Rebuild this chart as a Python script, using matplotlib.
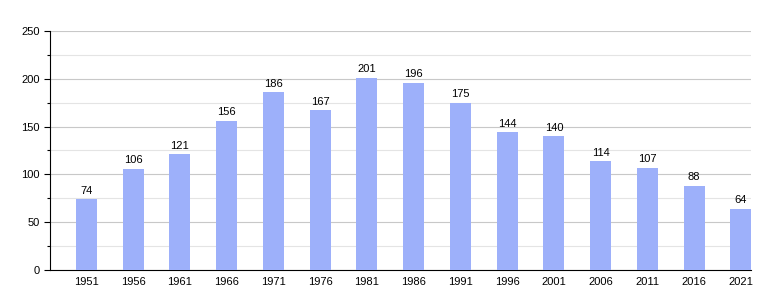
import numpy as np
import matplotlib.pyplot as plt

plt.rcParams['font.family'] = ['Liberation Sans', 'DejaVu Sans']

years = ['1951', '1956', '1961', '1966', '1971', '1976', '1981', '1986',
         '1991', '1996', '2001', '2006', '2011', '2016', '2021']
values = [74, 106, 121, 156, 186, 167, 201, 196, 175, 144, 140, 114, 107, 88, 64]

fig = plt.figure(figsize=(7.8, 3), dpi=100)
ax = fig.add_axes([0.064, 0.1, 0.899, 0.797])

x = np.arange(len(years))
ax.bar(x, values, width=0.45, color='#9db0fa', zorder=3)
for xi, v in zip(x, values):
    ax.text(xi, v + 3.5, str(v), ha='center', va='bottom', fontsize=8)

ax.set_ylim(0, 250)
ax.set_xlim(-0.78, 14.22)
ax.set_yticks(range(0, 251, 50))
ax.set_yticks(range(25, 251, 50), minor=True)
ax.set_xticks(x)
ax.set_xticklabels(years)
ax.tick_params(axis='both', labelsize=8)
ax.tick_params(axis='x', length=0, pad=5)
ax.tick_params(axis='y', which='major', length=4, width=0.8)
ax.tick_params(axis='y', which='minor', length=2, width=0.8)
ax.grid(axis='y', which='major', color='#c8c8c8', lw=0.8, zorder=0)
ax.grid(axis='y', which='minor', color='#e4e4e4', lw=0.8, zorder=0)
ax.spines['top'].set_visible(False)
ax.spines['right'].set_visible(False)

fig.savefig('out.png')
